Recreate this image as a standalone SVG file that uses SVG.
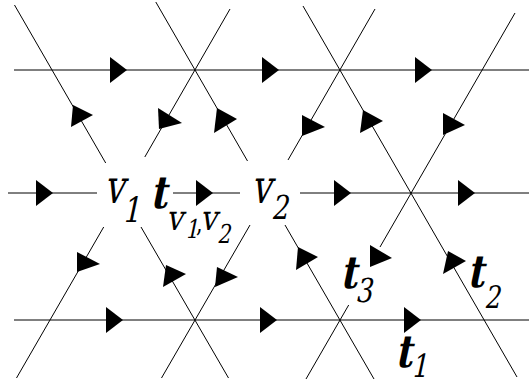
<svg xmlns="http://www.w3.org/2000/svg" xmlns:xlink="http://www.w3.org/1999/xlink" width="529" height="381" viewBox="0 0 529 381">
<style>
.ln{stroke:#000;stroke-width:1;fill:none}
.ah{fill:#000;stroke:none}
text{font-family:'DejaVu Serif',serif;font-style:normal;fill:#000}
.b{font-weight:bold}
</style>
<defs>
<polygon id="h" points="-17,-13 0,0 -17,13"/>
</defs>
<rect width="529" height="381" fill="#fff"/>
<g id="connectors">
<g class="ln">
<line x1="14" y1="70" x2="529" y2="70"/>
<line x1="8" y1="193" x2="97" y2="193"/>
<line x1="173" y1="193" x2="240" y2="193"/>
<line x1="300" y1="193" x2="529" y2="193"/>
<line x1="14" y1="320" x2="529" y2="320"/>
<line x1="14.5" y1="5" x2="105.7" y2="163"/>
<line x1="230" y1="9" x2="144.8" y2="157"/>
<line x1="155.8" y1="2" x2="247.5" y2="161"/>
<line x1="303" y1="6" x2="517" y2="377"/>
<line x1="375" y1="9" x2="288" y2="160"/>
<line x1="515" y1="13" x2="380" y2="247"/>
<line x1="103.7" y1="227" x2="16.5" y2="378"/>
<line x1="141" y1="227" x2="228.5" y2="378"/>
<line x1="250" y1="225" x2="161.5" y2="378"/>
<line x1="285" y1="225" x2="374" y2="379"/>
<line x1="348.7" y1="305" x2="306" y2="379"/>
</g>
<g class="ah">
<use xlink:href="#h" x="127" y="70"/>
<use xlink:href="#h" x="279" y="70"/>
<use xlink:href="#h" x="432" y="70"/>
<use xlink:href="#h" x="53" y="193"/>
<use xlink:href="#h" x="213" y="193"/>
<use xlink:href="#h" x="351" y="193"/>
<use xlink:href="#h" x="475" y="193"/>
<use xlink:href="#h" x="123" y="320"/>
<use xlink:href="#h" x="277" y="320"/>
<use xlink:href="#h" x="421" y="320"/>
<polygon points="73,105 93,115 71,127"/>
<polygon points="158,108 182,123 159,129"/>
<polygon points="217,108 237,119 214,133"/>
<polygon points="302,115 325,127 302,136"/>
<polygon points="363,110 383,121 360,133"/>
<polygon points="443,113 465,125 443,135"/>
<polygon points="77,252 100,264 77,272"/>
<polygon points="166,265 186,274 163,287"/>
<polygon points="217,267 238,277 215,287"/>
<polygon points="298,247 318,257 296,270"/>
<polygon points="370,245 392,258 370,267"/>
<polygon points="448,251 466,261 443,274"/>
</g>
</g>
<g id="v1">
<g transform="translate(104,203) skewX(-12) scale(0.75,1)"><text font-size="47">v</text></g>
<g transform="translate(122,222) skewX(-12) scale(0.8,1)"><text font-size="35">1</text></g>
</g>
<g id="tv1v2">
<g transform="translate(150,208) skewX(-12) scale(0.8,1)"><text font-size="45" class="b">t</text></g>
<g transform="translate(166,230) skewX(-12) scale(0.85,1)"><text font-size="35">v</text></g>
<g transform="translate(185,238) skewX(-12) scale(0.8,1)"><text font-size="26">1</text></g>
<g transform="translate(196,232) scale(0.8,1)"><text font-size="26">,</text></g>
<g transform="translate(200,230) skewX(-12) scale(0.85,1)"><text font-size="35">v</text></g>
<g transform="translate(217,243) skewX(-12) scale(0.8,1)"><text font-size="26">2</text></g>
</g>
<g id="v2">
<g transform="translate(251,203) skewX(-12) scale(0.75,1)"><text font-size="47">v</text></g>
<g transform="translate(271,219) skewX(-12) scale(0.8,1)"><text font-size="33">2</text></g>
</g>
<g id="t3">
<g transform="translate(340,288) skewX(-12) scale(0.8,1)"><text font-size="45" class="b">t</text></g>
<g transform="translate(355,302) skewX(-12) scale(0.8,1)"><text font-size="33">3</text></g>
</g>
<g id="t2">
<g transform="translate(467,287) skewX(-12) scale(0.8,1)"><text font-size="45" class="b">t</text></g>
<g transform="translate(484,308) skewX(-12) scale(0.8,1)"><text font-size="31">2</text></g>
</g>
<g id="t1">
<g transform="translate(395,367) skewX(-12) scale(0.8,1)"><text font-size="45" class="b">t</text></g>
<g transform="translate(411,377) skewX(-12) scale(0.8,1)"><text font-size="32">1</text></g>
</g>
</svg>
